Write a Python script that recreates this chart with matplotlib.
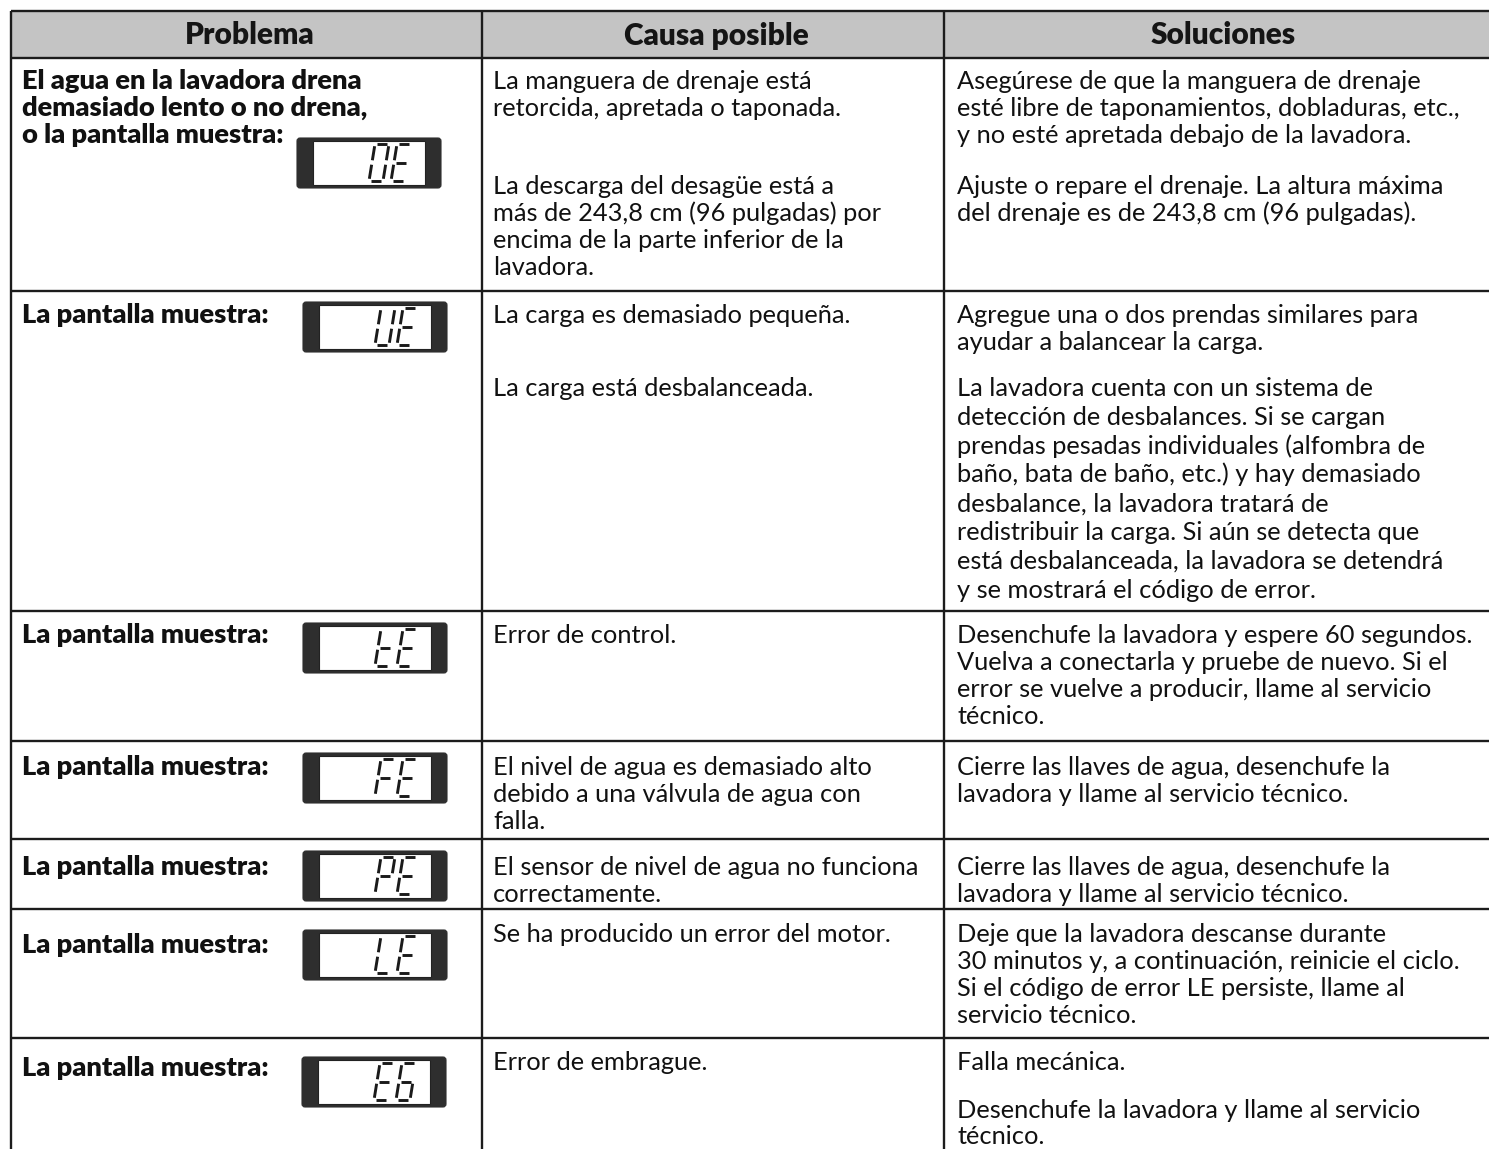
import matplotlib
matplotlib.use('Agg')
import matplotlib.pyplot as plt
from matplotlib.patches import Rectangle, FancyBboxPatch

# ──────────────────────────────────────────────
# Table content
# ──────────────────────────────────────────────
headers = ['Problema', 'Causa posible', 'Soluciones']

problems = [
    'El agua en la lavadora drena\ndemasiado lento o no drena,\no la pantalla muestra:',
    'La pantalla muestra:',
    'La pantalla muestra:',
    'La pantalla muestra:',
    'La pantalla muestra:',
    'La pantalla muestra:',
    'La pantalla muestra:',
]

codes = ['0E', 'UE', 'tE', 'FE', 'PE', 'LE', 'E6']

causes = [
    ['La manguera de drenaje está\nretorcida, apretada o taponada.',
     'La descarga del desagüe está a\nmás de 243,8 cm (96 pulgadas) por\n'
     'encima de la parte inferior de la\nlavadora.'],
    ['La carga es demasiado pequeña.',
     'La carga está desbalanceada.'],
    ['Error de control.'],
    ['El nivel de agua es demasiado alto\ndebido a una válvula de agua con\nfalla.'],
    ['El sensor de nivel de agua no funciona\ncorrectamente.'],
    ['Se ha producido un error del motor.'],
    ['Error de embrague.'],
]

solutions = [
    ['Asegúrese de que la manguera de drenaje\nesté libre de taponamientos, dobladuras, etc.,\n'
     'y no esté apretada debajo de la lavadora.',
     'Ajuste o repare el drenaje. La altura máxima\ndel drenaje es de 243,8 cm (96 pulgadas).'],
    ['Agregue una o dos prendas similares para\nayudar a balancear la carga.',
     'La lavadora cuenta con un sistema de\ndetección de desbalances. Si se cargan\n'
     'prendas pesadas individuales (alfombra de\nbaño, bata de baño, etc.) y hay demasiado\n'
     'desbalance, la lavadora tratará de\nredistribuir la carga. Si aún se detecta que\n'
     'está desbalanceada, la lavadora se detendrá\ny se mostrará el código de error.'],
    ['Desenchufe la lavadora y espere 60 segundos.\nVuelva a conectarla y pruebe de nuevo. Si el\n'
     'error se vuelve a producir, llame al servicio\ntécnico.'],
    ['Cierre las llaves de agua, desenchufe la\nlavadora y llame al servicio técnico.'],
    ['Cierre las llaves de agua, desenchufe la\nlavadora y llame al servicio técnico.'],
    ['Deje que la lavadora descanse durante\n30 minutos y, a continuación, reinicie el ciclo.\n'
     'Si el código de error LE persiste, llame al\nservicio técnico.'],
    ['Falla mecánica.',
     'Desenchufe la lavadora y llame al servicio\ntécnico.'],
]

# ──────────────────────────────────────────────
# Layout (pixels)
# ──────────────────────────────────────────────
W, H = 1489, 1149
col_x = [11, 482, 944, 1497]
header_y = (11, 58)
row_bottoms = [291, 611, 741, 839, 909, 1038, 1160]
para_y = [[79, 184], [313, 386], [633], [765], [865], [932], [1060, 1108]]
line_gap = [27, 28.8, 26.5, 26.5, 26.5, 26.5, 26]
label_y = [79, 313, 633, 765, 865, 943, 1066]
icon_top = [138, 302, 623, 753, 851, 930, 1057]
icon_left = [297, 303, 303, 303, 303, 303, 302]

TXT = '#111111'
GRID = '#1c1c1c'
HEAD = '#c4c4c4'
FONT = 'Lato'
BODY = 18.3
BOLD = 19.6
BASE = 10          # baseline offset from line centre

SEG = {
    'a': ((0.12, 0.0), (0.88, 0.0)),
    'b': ((1.0, 0.06), (1.0, 0.44)),
    'c': ((1.0, 0.56), (1.0, 0.94)),
    'd': ((0.12, 1.0), (0.88, 1.0)),
    'e': ((0.0, 0.56), (0.0, 0.94)),
    'f': ((0.0, 0.06), (0.0, 0.44)),
    'g': ((0.12, 0.5), (0.88, 0.5)),
}
GLYPH = {'0': 'abcdef', 'E': 'adefg', 'U': 'bcdef', 't': 'defg', 'F': 'aefg',
         'P': 'abefg', 'L': 'def', '6': 'acdefg'}

fig = plt.figure(figsize=(W / 100, H / 100), dpi=100, facecolor='white')
ax = fig.add_axes([0, 0, 1, 1])
ax.set_xlim(0, W)
ax.set_ylim(H, 0)
ax.axis('off')


def draw_lines(x, y0, text, gap, weight='normal'):
    size = BOLD if weight != 'normal' else BODY
    for i, line in enumerate(text.split('\n')):
        ax.text(x, y0 + i * gap + BASE, line, fontsize=size,
                fontweight=weight, family=FONT, color=TXT, va='baseline', ha='left')


def draw_display(x, y, code, w=144, h=50):
    ax.add_patch(FancyBboxPatch((x, y), w, h, boxstyle='round,pad=0,rounding_size=3',
                                facecolor='#2e2e2e', edgecolor='#2e2e2e', lw=0.8))
    ax.add_patch(Rectangle((x + 16, y + 3), w - 32, h - 6, facecolor='white',
                           edgecolor='#222222', lw=0.8))
    dw, dh, sl, sp = 14, 37, 6, 22
    right = x + w - 30
    for k, ch in enumerate(code):
        x0 = right - (len(code) - k) * sp + (sp - dw - sl)
        y0 = y + 6
        for s in GLYPH[ch]:
            (u1, v1), (u2, v2) = SEG[s]
            xs = [x0 + u1 * dw + (1 - v1) * sl, x0 + u2 * dw + (1 - v2) * sl]
            ys = [y0 + v1 * dh, y0 + v2 * dh]
            ax.plot(xs, ys, color='#1a1a1a', lw=2.1, solid_capstyle='butt')


# header band
ax.add_patch(Rectangle((col_x[0], header_y[0]), col_x[-1] - col_x[0], header_y[1] - header_y[0],
                       facecolor=HEAD, edgecolor='none'))
for i, hd in enumerate(headers):
    ax.text((col_x[i] + col_x[i + 1]) / 2 + 3, (header_y[0] + header_y[1]) / 2 + 1, hd,
            fontsize=21.5, fontweight='heavy', family=FONT, color='#151515',
            ha='center', va='center')

# grid lines
for yb in [header_y[0], header_y[1]] + row_bottoms[:-1]:
    ax.plot([col_x[0], col_x[-1]], [yb, yb], color=GRID, lw=1.7, solid_capstyle='butt')
for xc in col_x:
    ax.plot([xc, xc], [header_y[0], H + 5], color=GRID, lw=1.7, solid_capstyle='butt')

# rows
for r in range(len(problems)):
    draw_lines(col_x[0] + 11, label_y[r], problems[r], 27, weight='heavy')
    draw_display(icon_left[r], icon_top[r], codes[r])
    for p, para in enumerate(causes[r]):
        draw_lines(col_x[1] + 11, para_y[r][p], para, line_gap[r] if p else 27)
    for p, para in enumerate(solutions[r]):
        draw_lines(col_x[2] + 13, para_y[r][p], para, line_gap[r] if p else 27)

plt.savefig('out.png', dpi=100, facecolor='white')
